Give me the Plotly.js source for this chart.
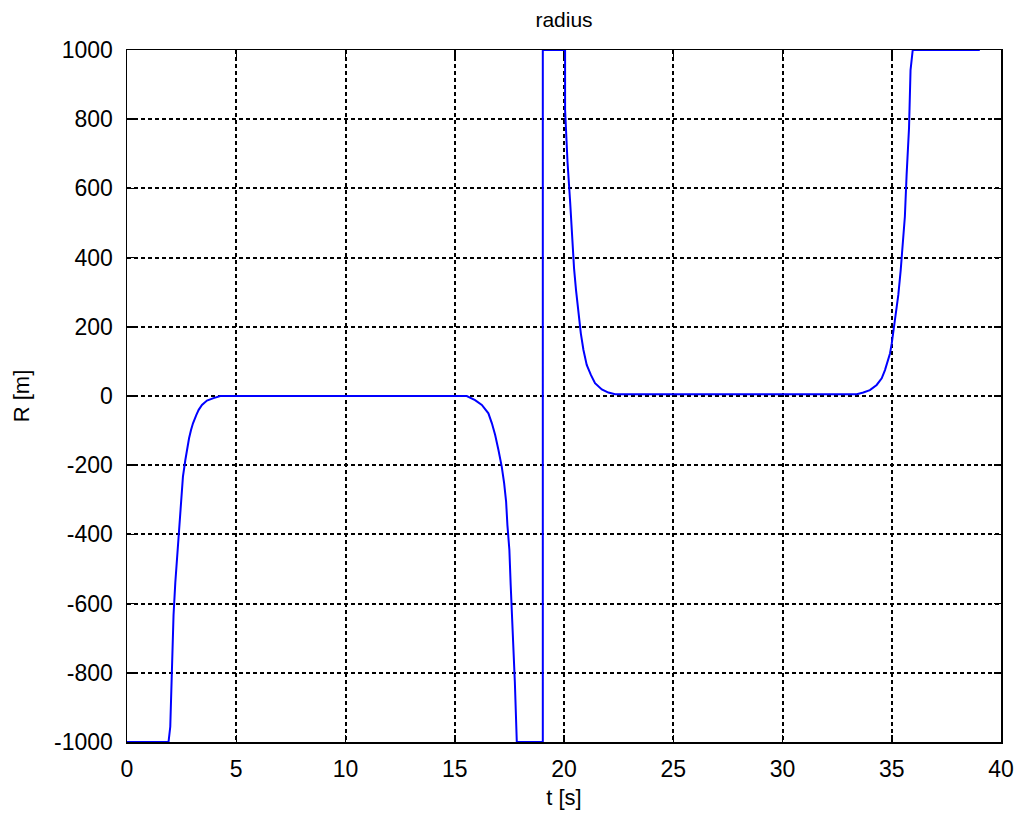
<!DOCTYPE html>
<html>
<head>
<meta charset="utf-8">
<script src="https://cdn.plot.ly/plotly-3.0.1.min.js"></script>
<style>html,body{margin:0;padding:0;background:#fff;}#chart{width:1024px;height:824px;}</style>
</head>
<body>
<div id="chart"></div>
<script>
// time [s]
var timeS = [0, 1.90, 1.98, 2.06, 2.13, 2.21, 2.33, 2.41, 2.48, 2.56, 2.67, 2.74, 2.84, 2.93, 3.02, 3.17, 3.28, 3.43, 3.66, 3.96, 4.27,
  15.55, 15.93, 16.24, 16.54, 16.70, 16.85, 17.00, 17.15, 17.26, 17.35, 17.41, 17.50, 17.56, 17.66, 17.75, 17.84,
  19.03, 19.03, 20.05, 20.05, 20.16, 20.28, 20.36, 20.46, 20.55, 20.66, 20.77, 20.89, 21.04, 21.23, 21.42, 21.73, 22.03, 22.34,
  33.40, 33.70, 34.00, 34.31, 34.54, 34.69, 34.84, 34.92, 35.00, 35.19, 35.30, 35.41, 35.50, 35.60, 35.68, 35.79, 35.86, 35.96, 39.03];
// radius [m]
var radiusM = [-1000, -1000, -956, -784, -633, -540, -426, -344, -286, -233, -185, -156, -122, -98, -79, -55, -40, -26, -13, -6, 0,
  0, -12, -26, -50, -79, -113, -156, -204, -252, -305, -373, -445, -546, -681, -826, -1000,
  -1000, 1000, 1000, 827, 677, 562, 460, 369, 306, 244, 181, 133, 90, 61, 37, 19, 10, 5,
  5, 10, 17, 32, 51, 75, 104, 123, 152, 234, 292, 364, 436, 518, 639, 774, 942, 1000, 1000];

var xTicks = [0, 5, 10, 15, 20, 25, 30, 35, 40];
var yTicks = [-1000, -800, -600, -400, -200, 0, 200, 400, 600, 800, 1000];

var fontFam = 'Liberation Sans, Arial, sans-serif';

var trace = {
  x: timeS, y: radiusM, type: 'scatter', mode: 'lines',
  line: {color: '#0000ff', width: 2},
  hoverinfo: 'skip'
};

var axisCommon = {
  ticks: 'inside', ticklen: 7, tickwidth: 1.5, tickcolor: '#000',
  showline: true, linecolor: '#000', linewidth: 1.5, mirror: 'ticks',
  showgrid: true, gridcolor: '#000', gridwidth: 2, griddash: '4px,3px',
  zeroline: false, layer: 'below traces',
  tickfont: {family: fontFam, size: 23, color: '#000'}
};

var layout = {
  width: 1024, height: 824,
  margin: {l: 127, r: 23, t: 50, b: 82},
  paper_bgcolor: '#fff', plot_bgcolor: '#fff',
  showlegend: false,
  title: {text: 'radius', font: {family: fontFam, size: 21, color: '#000'},
          x: 0.5, xref: 'paper', y: 1 - 20/824, yref: 'container', yanchor: 'middle'},
  xaxis: Object.assign({}, axisCommon, {
    range: [0, 40], tickmode: 'array', tickvals: xTicks, ticktext: xTicks.map(String),
    ticklabelstandoff: 6,
    title: {text: 't [s]', font: {family: fontFam, size: 22, color: '#000'}, standoff: 8}
  }),
  yaxis: Object.assign({}, axisCommon, {
    range: [-1000, 1000], tickmode: 'array', tickvals: yTicks, ticktext: yTicks.map(String),
    ticklabelstandoff: 8,
    title: {text: 'R [m]', font: {family: fontFam, size: 22, color: '#000'}, standoff: 18}
  })
};

Plotly.newPlot('chart', [trace], layout, {displayModeBar: false, staticPlot: true});
</script>
</body>
</html>
